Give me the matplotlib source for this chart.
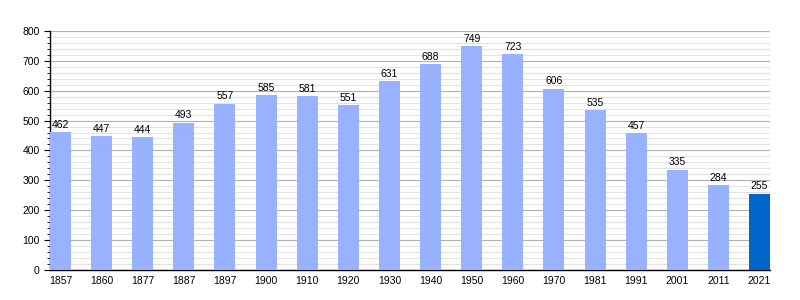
import matplotlib
matplotlib.use("Agg")
import matplotlib.pyplot as plt
from matplotlib.ticker import MultipleLocator

plt.rcParams["font.family"] = ["Liberation Sans", "DejaVu Sans"]

years = ["1857", "1860", "1877", "1887", "1897", "1900", "1910", "1920", "1930",
         "1940", "1950", "1960", "1970", "1981", "1991", "2001", "2011", "2021"]
population = [462, 447, 444, 493, 557, 585, 581, 551, 631,
              688, 749, 723, 606, 535, 457, 335, 284, 255]

bar_color = "#99b2ff"
last_color = "#0066cc"

fig = plt.figure(figsize=(8, 3), dpi=100)
ax = fig.add_axes([0.0625, 0.1, 0.9, 0.797])

colors = [bar_color] * (len(years) - 1) + [last_color]
x = list(range(len(years)))
ax.bar(x, population, width=0.51, align="edge", color=colors, zorder=3)

for i, v in enumerate(population):
    ax.text(i + 0.255, v + 8, str(v), ha="center", va="bottom", fontsize=7.5, zorder=4)

ax.set_xlim(0, len(years) - 0.49)
ax.set_ylim(0, 800)
ax.set_xticks([i + 0.255 for i in x])
ax.set_xticklabels(years, fontsize=7.5)
ax.yaxis.set_major_locator(MultipleLocator(100))
ax.yaxis.set_minor_locator(MultipleLocator(20))
ax.tick_params(axis="y", which="major", labelsize=7.5, length=4, direction="out")
ax.tick_params(axis="y", which="minor", length=2)
ax.tick_params(axis="x", length=0, pad=4)

ax.grid(axis="y", which="major", color="#b0b0b0", linewidth=0.8, zorder=0)
ax.grid(axis="y", which="minor", color="#e3e3e3", linewidth=0.8, zorder=0)

for s in ["top", "right"]:
    ax.spines[s].set_visible(False)
ax.spines["left"].set_linewidth(1)
ax.spines["bottom"].set_linewidth(1)

fig.savefig("out.png", dpi=100)
